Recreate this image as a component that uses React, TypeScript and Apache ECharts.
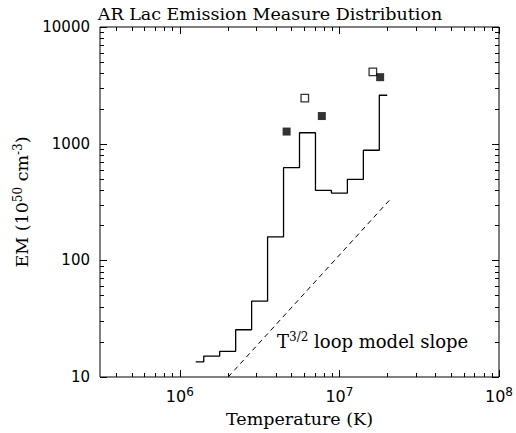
import React, { useEffect, useRef } from "react";
import * as echarts from "echarts";

// Histogram (IDL psym=10 style) : temperature grid and emission measure
const temperatures = [1.259e6, 1.585e6, 1.995e6, 2.512e6, 3.162e6, 3.981e6, 5.012e6, 6.31e6, 7.943e6, 1.0e7, 1.259e7, 1.585e7, 1.995e7];
const emValues = [13.5, 15.1, 16.6, 25.4, 44.7, 159, 622, 1240, 397, 377, 495, 878, 2600];

// Open squares
const openT = [6.07e6, 1.62e7];
const openEM = [2455, 4130];

// Filled squares
const filledT = [4.67e6, 7.76e6, 1.8e7];
const filledEM = [1270, 1725, 3715];

// T^{3/2} slope reference line
const slopeT = [2.01e6, 2.13e7];
const slopeEM = [10, 345];

// Axis ticks
const xMajorTicks = [1e6, 1e7, 1e8];
const xMinorTicks = [4e5, 5e5, 6e5, 7e5, 8e5, 9e5, 2e6, 3e6, 4e6, 5e6, 6e6, 7e6, 8e6, 9e6, 2e7, 3e7, 4e7, 5e7, 6e7, 7e7, 8e7, 9e7];
const yMajorTicks = [10, 100, 1000, 10000];
const yMinorTicks = [20, 30, 40, 50, 60, 70, 80, 90, 200, 300, 400, 500, 600, 700, 800, 900, 2000, 3000, 4000, 5000, 6000, 7000, 8000, 9000];

const X_MIN = 316227.766;
const X_MAX = 1e8;
const Y_MIN = 10;
const Y_MAX = 10000;

const SERIF = '"DejaVu Serif", serif';
const SANS = '"DejaVu Sans", sans-serif';

export default function App() {
  const ref = useRef<HTMLDivElement>(null);

  useEffect(() => {
    if (!ref.current) return;
    const chart = echarts.init(ref.current, undefined, { renderer: "svg" });

    const xTickData = [
      ...xMajorTicks.map((v) => [v, Y_MIN, 7]),
      ...xMinorTicks.map((v) => [v, Y_MIN, 4]),
    ];
    const yTickData = [
      ...yMajorTicks.map((v) => [X_MIN, v, 7]),
      ...yMinorTicks.map((v) => [X_MIN, v, 4]),
    ];

    const option: any = {
      animation: false,
      backgroundColor: "#fff",
      grid: {
        left: 100,
        top: 27,
        width: 401,
        height: 354,
        show: true,
        borderColor: "#000",
        borderWidth: 1,
        backgroundColor: "transparent",
      },
      xAxis: {
        type: "log",
        logBase: 10,
        min: X_MIN,
        max: X_MAX,
        axisLine: { show: false },
        axisTick: { show: false },
        splitLine: { show: false },
        minorTick: { show: false },
        name: "Temperature (K)",
        nameLocation: "middle",
        nameGap: 33,
        nameTextStyle: { fontFamily: SERIF, fontSize: 17.5, color: "#000" },
        axisLabel: {
          margin: 9,
          color: "#000",
          formatter: (v: number) => {
            const e = Math.log10(v);
            if (Math.abs(e - Math.round(e)) > 1e-6) return "";
            return "{b|10}{s|" + Math.round(e) + "}";
          },
          rich: {
            b: { fontFamily: SANS, fontSize: 16, color: "#000" },
            s: { fontFamily: SANS, fontSize: 12, color: "#000", padding: [0, 0, 9, 0] },
          },
        },
      },
      yAxis: {
        type: "log",
        logBase: 10,
        min: Y_MIN,
        max: Y_MAX,
        axisLine: { show: false },
        axisTick: { show: false },
        splitLine: { show: false },
        minorTick: { show: false },
        name: "{a|EM (10}{s|50}{a| cm}{s|-3}{a|)}",
        nameLocation: "middle",
        nameGap: 49,
        nameTextStyle: {
          color: "#000",
          rich: {
            a: { fontFamily: SERIF, fontSize: 17.5, color: "#000" },
            s: { fontFamily: SERIF, fontSize: 12, color: "#000", padding: [0, 0, 9, 0] },
          },
        },
        axisLabel: {
          margin: 10,
          color: "#000",
          fontFamily: SANS,
          fontSize: 15,
          formatter: (v: number) => String(Math.round(v)),
        },
      },
      graphic: [
        {
          type: "text",
          x: 270,
          y: 14,
          style: {
            text: "AR Lac Emission Measure Distribution",
            font: '17.5px "DejaVu Serif"',
            fill: "#000",
            align: "center",
            verticalAlign: "middle",
          },
        },
        {
          type: "text",
          x: 277,
          y: 341,
          style: {
            text: "{a|T}{s|3/2}{a| loop model slope}",
            fill: "#000",
            align: "left",
            verticalAlign: "middle",
            rich: {
              a: { fontFamily: SERIF, fontSize: 18, fill: "#000" },
              s: { fontFamily: SERIF, fontSize: 12, fill: "#000", padding: [0, 0, 9, 0] },
            },
          },
        },
      ],
      series: [
        {
          type: "line",
          step: "middle",
          data: temperatures.map((t, i) => [t, emValues[i]]),
          symbol: "none",
          lineStyle: { color: "#000", width: 1.3 },
          z: 3,
        },
        {
          type: "line",
          data: slopeT.map((t, i) => [t, slopeEM[i]]),
          symbol: "none",
          lineStyle: { color: "#000", width: 1, type: [5, 4] },
          z: 3,
        },
        {
          type: "scatter",
          data: openT.map((t, i) => [t, openEM[i]]),
          symbol: "rect",
          symbolSize: 7.5,
          itemStyle: { color: "#fff", borderColor: "#000", borderWidth: 1.3 },
          z: 4,
        },
        {
          type: "scatter",
          data: filledT.map((t, i) => [t, filledEM[i]]),
          symbol: "rect",
          symbolSize: 8,
          itemStyle: { color: "#000" },
          z: 4,
        },
        {
          type: "custom",
          clip: false,
          silent: true,
          data: xTickData,
          renderItem: (params: any, api: any) => {
            const cs = params.coordSys;
            const p = api.coord([api.value(0), api.value(1)]);
            const len = api.value(2);
            const bottom = cs.y + cs.height;
            const x = Math.round(p[0]) + 0.5;
            return {
              type: "group",
              children: [
                { type: "line", shape: { x1: x, y1: bottom, x2: x, y2: bottom - len }, style: { stroke: "#000", lineWidth: 1 } },
                { type: "line", shape: { x1: x, y1: cs.y, x2: x, y2: cs.y + len }, style: { stroke: "#000", lineWidth: 1 } },
              ],
            };
          },
          z: 5,
        },
        {
          type: "custom",
          clip: false,
          silent: true,
          data: yTickData,
          renderItem: (params: any, api: any) => {
            const cs = params.coordSys;
            const p = api.coord([api.value(0), api.value(1)]);
            const len = api.value(2);
            const right = cs.x + cs.width;
            const y = Math.round(p[1]) + 0.5;
            return {
              type: "group",
              children: [
                { type: "line", shape: { x1: cs.x, y1: y, x2: cs.x + len, y2: y }, style: { stroke: "#000", lineWidth: 1 } },
                { type: "line", shape: { x1: right, y1: y, x2: right - len, y2: y }, style: { stroke: "#000", lineWidth: 1 } },
              ],
            };
          },
          z: 5,
        },
      ],
    };

    chart.setOption(option);
    return () => chart.dispose();
  }, []);

  return (
    <div
      ref={ref}
      style={{ position: "fixed", left: 0, top: 0, width: 516, height: 433, background: "#fff" }}
    />
  );
}
